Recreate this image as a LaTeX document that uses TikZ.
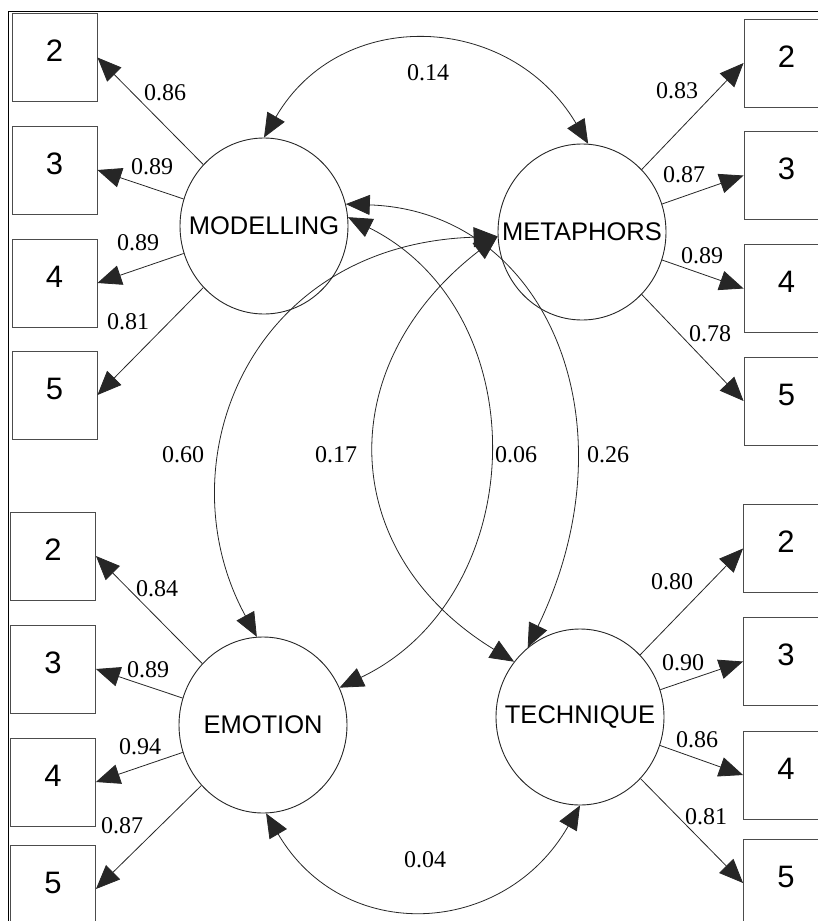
\documentclass[tikz,border=0pt]{standalone}
\usepackage{fontspec}
\setmainfont{Liberation Serif}
\newfontfamily\sansfam{Liberation Sans}
\usetikzlibrary{arrows.meta,shapes.geometric}

\begin{document}
\begin{tikzpicture}[x=1pt,y=-1pt,
  latent/.style={ellipse, draw=black!85, line width=0.9pt,
    minimum width=168pt, minimum height=176pt, inner sep=0pt},
  lvtext/.style={font=\sansfam\fontsize{25.5}{28}\selectfont, inner sep=0pt},
  indicator/.style={rectangle, draw=black!70, line width=0.9pt,
    minimum width=85pt, minimum height=88pt, inner sep=0pt,
    text height=22pt, text depth=14pt,
    font=\sansfam\fontsize{31}{34}\selectfont},
  tip/.tip={Triangle[length=24pt,width=20pt]},
  load/.style={-tip, line width=0.8pt, draw=black!85},
  corr/.style={tip-tip, line width=0.8pt, draw=black!85},
  coef/.style={font=\fontsize{24}{26}\selectfont, inner sep=0pt}
]
\useasboundingbox (0,0) rectangle (818,921);
\clip (0,0) rectangle (818,921);

% outer frame (runs past the right and bottom edges)
\draw[line width=1.8pt] (8.5,960) -- (8.5,11.5) -- (860,11.5);

% latent variables
\node[latent, label={[lvtext]center:MODELLING}] (mod)  at (264,226) {};
\node[latent, label={[lvtext]center:METAPHORS}] (met)  at (582,232) {};
\node[latent, label={[lvtext]center:EMOTION}]   (emo)  at (263,725) {};
\node[latent, label={[lvtext]center:TECHNIQUE}] (tech) at (580,717) {};

% indicators of MODELLING
\node[indicator] (m2) at (54.5,57.5) {2};
\node[indicator] (m3) at (54.5,170)  {3};
\node[indicator] (m4) at (54.5,283)  {4};
\node[indicator] (m5) at (54.5,395)  {5};
% indicators of METAPHORS
\node[indicator] (p2) at (786.5,63)    {2};
\node[indicator] (p3) at (786.5,175.5) {3};
\node[indicator] (p4) at (786.5,288.5) {4};
\node[indicator] (p5) at (786.5,401)   {5};
% indicators of EMOTION
\node[indicator] (e2) at (53,556) {2};
\node[indicator] (e3) at (53,669) {3};
\node[indicator] (e4) at (53,782) {4};
\node[indicator] (e5) at (53,889) {5};
% indicators of TECHNIQUE
\node[indicator] (t2) at (786,548.5) {2};
\node[indicator] (t3) at (786,661.5) {3};
\node[indicator] (t4) at (786,775)   {4};
\node[indicator] (t5) at (786,883)   {5};

% factor loadings
\draw[load] (mod) -- (m2.east);
\draw[load] (mod) -- (m3.east);
\draw[load] (mod) -- (m4.east);
\draw[load] (mod) -- (m5.east);
\draw[load] (met) -- (p2.west);
\draw[load] (met) -- (p3.west);
\draw[load] (met) -- (p4.west);
\draw[load] (met) -- (p5.west);
\draw[load] (emo) -- (e2.east);
\draw[load] (emo) -- (e3.east);
\draw[load] (emo) -- (e4.east);
\draw[load] (emo) -- (e5.east);
\draw[load] (tech) -- (t2.west);
\draw[load] (tech) -- (t3.west);
\draw[load] (tech) -- (t4.west);
\draw[load] (tech) -- (t5.west);

\node[coef] (lm2) at (165,93)  {0.86};
\node[coef] (lm3) at (152,167) {0.89};
\node[coef] (lm4) at (138,243) {0.89};
\node[coef] (lm5) at (128,322) {0.81};
\node[coef] (lp2) at (677,91)  {0.83};
\node[coef] (lp3) at (684,175) {0.87};
\node[coef] (lp4) at (702,256) {0.89};
\node[coef] (lp5) at (710,334) {0.78};
\node[coef] (le2) at (157,589) {0.84};
\node[coef] (le3) at (148,670) {0.89};
\node[coef] (le4) at (140,747) {0.94};
\node[coef] (le5) at (122,826) {0.87};
\node[coef] (lt2) at (672,582) {0.80};
\node[coef] (lt3) at (683,663) {0.90};
\node[coef] (lt4) at (697,740) {0.86};
\node[coef] (lt5) at (706,817) {0.81};

% correlations between latent variables
\draw[corr] (mod.north) .. controls (340.5,5.5) and (509.5,11.5) .. (met.86);
\draw[corr] (emo.-88) .. controls (343.5,945.5) and (504.5,937.5) .. (tech.-90);
\draw[corr] (met.183) .. controls (247,244.5) and (163,465) .. (emo.94);
\draw[corr] (met.183) .. controls (331,365) and (336.5,553) .. (tech.140);
\draw[corr] (mod.6) .. controls (539,313) and (531,596) .. (emo.26);
\draw[corr] (mod.15) .. controls (547,211) and (636,423) .. (tech.127);

\node[coef] (c14) at (428,73)  {0.14};
\node[coef] (c04) at (425,860) {0.04};
\node[coef] (c60) at (183,455) {0.60};
\node[coef] (c17) at (336,455) {0.17};
\node[coef] (c06) at (516,455) {0.06};
\node[coef] (c26) at (608,455) {0.26};
\end{tikzpicture}
\end{document}
